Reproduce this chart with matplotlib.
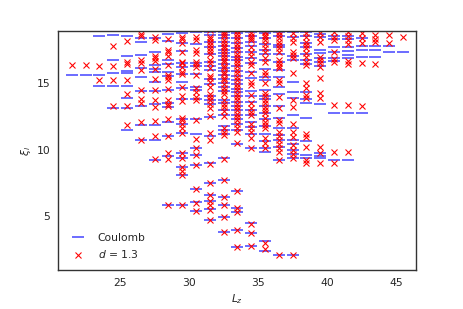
import matplotlib
matplotlib.use("Agg")
import matplotlib.pyplot as plt
import seaborn as sns

Lz_values = [21.5, 22.5, 23.5, 24.5, 25.5, 26.5, 27.5, 28.5, 29.5, 30.5, 31.5, 32.5,
             33.5, 34.5, 35.5, 36.5, 37.5, 38.5, 39.5, 40.5, 41.5, 42.5, 43.5, 44.5, 45.5]

coulomb_levels = [
    [15.6],
    [15.6],
    [18.5, 15.63, 14.75],
    [18.57, 16.75, 15.75, 14.78, 13.1],
    [18.5, 17.03, 15.92, 15.72, 14.8, 13.88, 13.1, 11.45],
    [18.35, 18.1, 17.1, 16.13, 15.46, 14.37, 13.24, 11.86, 10.72],
    [18.37, 17.3, 16.35, 16.05, 15.85, 15.08, 14.37, 13.4, 11.82, 10.72, 9.25],
    [18.7, 18.12, 16.75, 16.4, 15.82, 15.5, 14.5, 13.5, 13.2, 12.1, 11.02, 9.55, 5.8],
    [18.72, 18.0, 17.4, 16.5, 16.2, 15.7, 15.1, 14.6, 13.8, 12.3, 11.9, 11.22, 9.75, 9.35, 8.7, 8.1, 5.85],
    [18.8, 17.95, 16.5, 16.3, 15.7, 14.7, 14.5, 13.8, 12.3, 11.15, 10.1, 9.6, 8.85, 7.0, 6.05, 5.4],
    [18.8, 18.6, 18.05, 17.7, 17.2, 16.6, 16.3, 15.95, 15.3, 14.95, 14.0, 13.7, 13.4, 12.45, 11.0,
     9.0, 7.45, 6.6, 6.1, 5.5, 4.68],
    [18.8, 18.6, 18.35, 18.05, 17.75, 17.5, 17.25, 17.0, 16.75, 16.45, 16.15, 15.9, 15.6, 15.3, 15.0,
     14.7, 14.4, 13.75, 13.5, 13.0, 12.6, 11.75, 11.5, 11.2, 9.35, 7.7, 6.4, 5.82, 4.97, 3.82],
    [18.75, 18.4, 18.0, 17.6, 17.3, 16.95, 16.7, 16.3, 15.9, 15.55, 15.2, 14.9, 14.55, 14.3, 14.0,
     13.6, 13.3, 12.95, 12.6, 12.3, 11.9, 11.5, 10.45, 6.85, 5.6, 5.3, 3.95, 2.7],
    [18.8, 18.5, 18.1, 17.8, 17.3, 16.85, 16.5, 15.8, 15.4, 14.4, 14.0, 13.6, 13.0, 12.6, 12.1,
     11.7, 11.2, 10.1, 4.45, 3.72, 2.77],
    [18.72, 18.35, 17.9, 17.5, 17.2, 16.7, 16.05, 15.45, 15.2, 14.5, 14.0, 13.8, 13.25, 12.75, 12.3,
     11.8, 11.15, 10.65, 10.1, 9.8, 3.1, 2.4],
    [18.85, 18.55, 17.85, 17.7, 17.2, 16.55, 16.0, 15.45, 14.7, 14.2, 13.3, 12.35, 11.6, 11.1, 10.75,
     10.2, 9.2, 2.07],
    [18.85, 18.45, 17.0, 16.7, 15.1, 14.3, 13.85, 12.6, 11.6, 10.72, 10.4, 9.95, 9.7, 9.35, 2.07],
    [18.8, 18.55, 18.0, 17.7, 17.2, 16.75, 16.45, 14.35, 13.8, 13.5, 12.35, 10.65, 9.6, 9.35],
    [18.7, 18.45, 17.47, 17.22, 16.85, 16.6, 16.3, 13.4, 9.72, 9.55, 9.35],
    [18.5, 18.3, 17.72, 17.35, 16.85, 16.65, 12.72, 9.22],
    [18.5, 18.3, 17.7, 17.37, 17.1, 16.9, 12.72, 9.22],
    [18.35, 17.8, 17.5, 16.97, 12.72],
    [17.75, 17.45, 16.97],
    [17.8, 17.36],
    [17.36],
]

d13_levels = [
    [16.35],
    [16.35],
    [16.3, 15.2],
    [17.8, 16.3, 15.2, 13.28],
    [18.12, 16.6, 16.42, 15.2, 14.18, 13.3, 11.84],
    [18.7, 18.5, 16.72, 16.46, 15.95, 14.48, 13.82, 13.5, 12.1, 10.74],
    [18.47, 18.25, 17.02, 16.85, 16.62, 16.07, 15.33, 14.5, 13.7, 13.2, 12.17, 11.05, 9.27],
    [18.32, 17.5, 17.32, 17.02, 16.37, 15.62, 15.42, 15.25, 14.55, 13.7, 13.45, 13.25, 12.3, 11.02,
     9.75, 9.27, 5.8],
    [18.45, 18.3, 18.0, 17.35, 16.6, 16.47, 16.22, 15.8, 15.7, 14.7, 14.0, 13.65, 12.35, 12.2, 11.95,
     11.65, 11.25, 9.75, 9.35, 8.7, 8.4, 8.1, 5.82],
    [18.45, 18.22, 17.5, 17.22, 16.6, 16.4, 16.22, 15.6, 14.65, 14.35, 13.97, 13.72, 12.25, 10.82,
     10.15, 9.6, 8.85, 7.0, 6.02, 5.4],
    [18.95, 18.45, 18.3, 18.1, 17.85, 17.6, 17.4, 17.15, 16.7, 16.47, 16.1, 15.5, 15.35, 15.05, 14.72,
     14.15, 13.95, 13.7, 13.45, 13.15, 12.5, 11.25, 10.75, 8.95, 7.45, 6.55, 6.1, 5.82, 5.45, 4.7],
    [18.85, 18.65, 18.5, 18.25, 18.0, 17.8, 17.6, 17.4, 17.2, 16.95, 16.75, 16.55, 16.3, 16.1, 15.85,
     15.65, 15.4, 15.2, 14.95, 14.65, 14.4, 14.15, 13.7, 13.45, 13.2, 12.9, 12.5, 11.6, 11.35, 11.1,
     9.32, 7.7, 6.4, 5.82, 4.97, 3.82],
    [18.9, 18.7, 18.45, 18.22, 17.95, 17.7, 17.45, 17.2, 16.95, 16.7, 16.5, 16.25, 16.0, 15.75, 15.45,
     15.2, 14.95, 14.7, 14.45, 14.2, 13.95, 13.7, 13.45, 13.2, 12.95, 12.7, 12.45, 12.2, 11.95, 11.65,
     11.35, 10.47, 6.85, 5.6, 5.3, 3.97, 2.7],
    [18.75, 18.55, 18.4, 18.2, 17.72, 17.35, 17.05, 16.6, 16.35, 15.72, 15.1, 14.85, 14.1, 13.5, 13.1,
     12.8, 12.6, 11.95, 11.6, 11.3, 10.9, 10.1, 4.4, 3.7, 2.77],
    [18.85, 18.6, 18.47, 18.22, 17.95, 17.6, 17.35, 16.85, 16.6, 15.85, 15.6, 14.97, 14.22, 14.0, 13.75,
     13.5, 13.2, 12.95, 12.72, 12.35, 12.1, 11.85, 11.6, 10.85, 10.47, 10.1, 2.97, 2.55],
    [18.85, 18.6, 18.35, 18.1, 17.85, 17.6, 17.35, 16.72, 16.5, 16.3, 16.1, 15.22, 14.97, 13.97, 13.1,
     12.22, 11.97, 11.35, 11.05, 10.75, 10.45, 10.15, 9.85, 9.22, 2.07],
    [18.72, 18.35, 18.05, 17.35, 17.1, 16.85, 15.72, 13.7, 13.22, 11.9, 11.35, 10.97, 10.35, 10.0, 9.7,
     9.35, 2.07],
    [18.72, 18.47, 18.1, 17.85, 17.6, 17.22, 16.97, 16.6, 16.35, 14.97, 14.6, 14.1, 13.85, 11.2, 10.95,
     10.22, 9.22, 8.97],
    [18.72, 18.45, 18.1, 16.97, 16.72, 16.47, 16.22, 15.35, 14.22, 13.9, 10.22, 9.72, 8.97],
    [18.8, 18.45, 18.2, 17.35, 16.82, 16.57, 13.38, 9.8, 8.97],
    [18.8, 18.55, 18.22, 17.9, 16.65, 16.4, 13.33, 9.85],
    [18.72, 18.35, 17.97, 16.46, 13.3],
    [18.6, 18.3, 18.1, 16.45],
    [18.6, 18.0],
    [18.46],
]

sns.set_style("white")
plt.rcParams['font.family'] = ['DejaVu Sans']

fig = plt.figure(figsize=(463 / 77, 309 / 77), dpi=77)
ax = fig.add_axes([0.1253, 0.126, 0.7732, 0.7737])

cx = [lz for lz, lv in zip(Lz_values, coulomb_levels) for _ in lv]
cy = [v for lv in coulomb_levels for v in lv]
dx = [lz for lz, lv in zip(Lz_values, d13_levels) for _ in lv]
dy = [v for lv in d13_levels for v in lv]

ax.plot(cx, cy, linestyle='none', marker='_', markersize=12, markeredgewidth=1.5,
        color='blue', alpha=0.7, label='Coulomb')
ax.plot(dx, dy, linestyle='none', marker='x', markersize=6, markeredgewidth=1.0,
        color='red', label='$d$ = 1.3')

for s in ax.spines.values():
    s.set_color('#333333')
    s.set_linewidth(1.3)

ax.set_xlim(20.5, 46.45)
ax.set_ylim(0.95, 18.9)
ax.set_xticks([25, 30, 35, 40, 45])
ax.set_yticks([5, 10, 15])
ax.set_xlabel('$L_z$')
ax.set_ylabel(r'$\xi_l$')
ax.legend(loc='lower left', frameon=False)

fig.savefig('out.png', dpi=77)
